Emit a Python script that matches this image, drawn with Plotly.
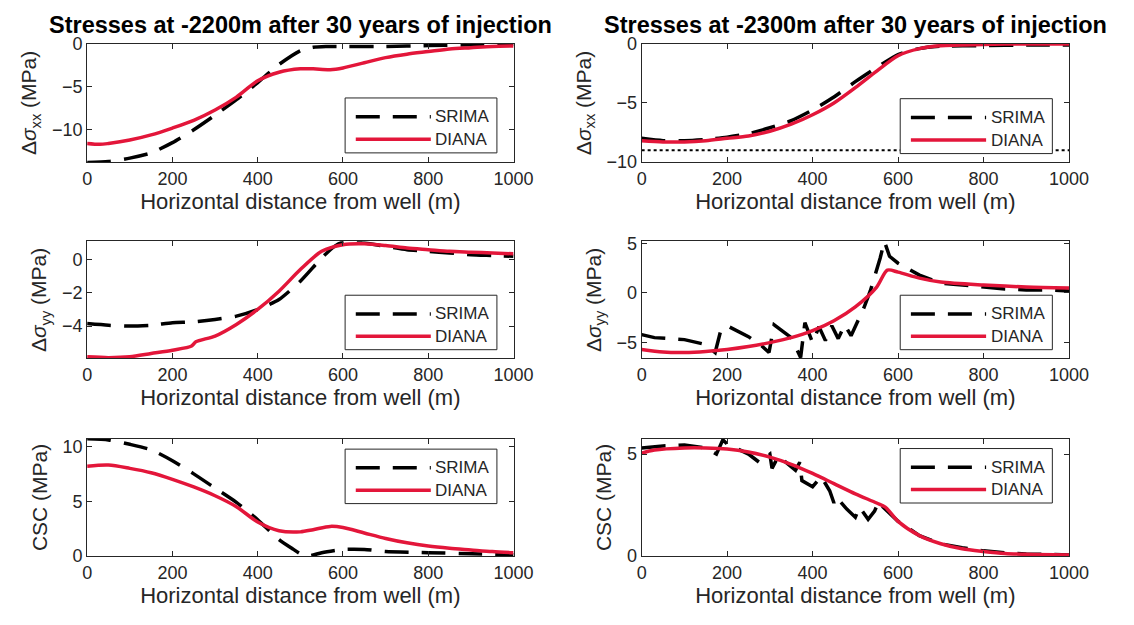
import plotly.graph_objects as go

# ---- data: horizontal distance (m) and stress changes (MPa) ----
# -2200 m, delta sigma_xx
sxx1_x_srima = [0, 50, 100, 150, 200, 250, 300, 350, 400, 450, 500, 530, 560, 600, 700, 800, 900, 1000]
sxx1_srima = [-13.8, -13.7, -13.3, -12.7, -11.5, -10.0, -8.3, -6.5, -4.5, -2.4, -0.8, -0.4, -0.3, -0.3, -0.3, -0.2, -0.1, 0.0]
sxx1_x_diana = [0, 30, 50, 100, 150, 200, 250, 300, 350, 400, 450, 500, 530, 570, 600, 650, 700, 750, 800, 850, 900, 950, 1000]
sxx1_diana = [-11.6, -11.7, -11.6, -11.2, -10.6, -9.8, -8.9, -7.7, -6.2, -4.3, -3.3, -2.9, -2.9, -3.0, -2.8, -2.2, -1.6, -1.2, -0.9, -0.6, -0.45, -0.3, -0.25]

# -2300 m, delta sigma_xx
sxx2_x_srima = [0, 50, 100, 150, 200, 250, 300, 350, 400, 450, 500, 550, 600, 650, 700, 800, 900, 1000]
sxx2_srima = [-8.0, -8.2, -8.2, -8.1, -7.9, -7.6, -7.1, -6.5, -5.6, -4.5, -3.2, -2.0, -0.9, -0.4, -0.2, -0.15, -0.1, -0.1]
sxx2_x_diana = [0, 50, 100, 150, 200, 250, 300, 350, 400, 450, 500, 550, 600, 650, 700, 800, 900, 1000]
sxx2_diana = [-8.2, -8.3, -8.3, -8.2, -8.0, -7.8, -7.4, -6.8, -6.0, -5.0, -3.7, -2.3, -1.0, -0.4, -0.15, -0.05, 0.0, 0.0]
sxx2_x_limit = [0, 1000]
sxx2_limit = [-9.0, -9.0]

# -2200 m, delta sigma_yy
syy1_x_srima = [0, 50, 100, 150, 200, 250, 300, 350, 400, 450, 500, 550, 580, 600, 650, 700, 750, 800, 850, 900, 950, 1000]
syy1_srima = [-3.85, -3.95, -4.0, -3.95, -3.8, -3.75, -3.6, -3.4, -3.0, -2.4, -1.3, 0.1, 0.8, 1.05, 1.0, 0.8, 0.6, 0.5, 0.4, 0.3, 0.25, 0.2]
syy1_x_diana = [0, 50, 100, 150, 200, 245, 255, 300, 350, 400, 450, 500, 550, 600, 650, 700, 750, 800, 850, 900, 950, 1000]
syy1_diana = [-5.85, -5.9, -5.85, -5.65, -5.45, -5.2, -4.95, -4.6, -3.9, -3.0, -1.9, -0.6, 0.5, 0.9, 0.95, 0.85, 0.7, 0.6, 0.5, 0.45, 0.4, 0.35]

# -2300 m, delta sigma_yy
syy2_x_srima = [0, 30, 100, 150, 172, 185, 200, 250, 280, 298, 310, 350, 372, 382, 400, 415, 430, 445, 460, 475, 490, 505,
                520, 535, 548, 558, 568, 580, 600, 650, 700, 750, 800, 850, 900, 950, 1000]
syy2_srima = [-4.2, -4.5, -4.7, -5.2, -6.0, -3.8, -3.3, -4.4, -5.3, -6.0, -3.2, -4.5, -6.5, -3.0, -5.0, -3.4, -4.8, -3.3, -4.6, -3.2, -4.3, -2.9,
              -1.5, 0.2, 2.0, 3.5, 5.2, 3.7, 3.0, 1.8, 1.0, 0.8, 0.6, 0.4, 0.3, 0.3, 0.2]
syy2_x_diana = [0, 50, 100, 150, 200, 250, 300, 350, 400, 450, 500, 550, 575, 600, 650, 700, 800, 900, 1000]
syy2_diana = [-5.7, -5.95, -6.0, -5.9, -5.7, -5.4, -5.0, -4.5, -3.8, -2.8, -1.4, 0.6, 2.3, 2.1, 1.5, 1.1, 0.8, 0.6, 0.5]

# -2200 m, CSC
csc1_x_srima = [0, 50, 100, 150, 200, 250, 300, 350, 400, 450, 480, 500, 520, 550, 600, 650, 700, 800, 900, 1000]
csc1_srima = [10.7, 10.6, 10.2, 9.7, 8.7, 7.5, 6.2, 4.9, 3.3, 1.5, 0.7, 0.2, 0.0, 0.3, 0.6, 0.6, 0.4, 0.3, 0.2, 0.1]
csc1_x_diana = [0, 50, 100, 150, 200, 250, 300, 350, 400, 450, 500, 530, 570, 600, 650, 700, 750, 800, 850, 900, 950, 1000]
csc1_diana = [8.2, 8.3, 8.0, 7.6, 7.0, 6.3, 5.5, 4.5, 3.1, 2.3, 2.2, 2.4, 2.7, 2.6, 2.1, 1.6, 1.2, 0.9, 0.7, 0.55, 0.4, 0.3]

# -2300 m, CSC
csc2_x_srima = [0, 50, 100, 150, 175, 190, 200, 250, 275, 300, 305, 320, 360, 370, 375, 400, 420, 440, 450, 455, 480, 500,
                510, 530, 545, 555, 565, 600, 650, 700, 750, 800, 850, 900, 1000]
csc2_srima = [5.3, 5.4, 5.45, 5.3, 5.0, 5.7, 5.5, 5.0, 4.6, 5.0, 4.3, 4.9, 4.2, 4.6, 3.7, 3.4, 3.9, 3.2, 2.6, 2.9, 2.3, 1.9,
              2.4, 1.8, 2.2, 2.7, 2.4, 1.7, 1.0, 0.6, 0.4, 0.25, 0.15, 0.1, 0.05]
csc2_x_diana = [0, 30, 100, 150, 200, 250, 300, 350, 400, 450, 500, 550, 570, 600, 650, 700, 750, 800, 850, 900, 1000]
csc2_diana = [5.05, 5.2, 5.3, 5.3, 5.25, 5.1, 4.85, 4.5, 4.05, 3.55, 3.05, 2.6, 2.4, 1.7, 1.0, 0.6, 0.35, 0.22, 0.12, 0.08, 0.05]

titles = ["Stresses at -2200m after 30 years of injection", "Stresses at -2300m after 30 years of injection"]
y_labels = ["Δ<i>σ</i><sub>xx</sub> (MPa)", "Δ<i>σ</i><sub>yy</sub> (MPa)", "CSC (MPa)"]
x_label = "Horizontal distance from well (m)"
series_names = ["SRIMA", "DIANA"]
x_ticks = [0, 200, 400, 600, 800, 1000]

# ---- styling ----
FONT = "Liberation Sans, Arial, sans-serif"
INK = "#262626"
RED = "#e3163a"
BLACK = "#000000"
DASH = "24px,13px"
LW = 3.5
W, H = 1134, 625

col_px = [(84, 520), (651, 1088)]
row_px = [(35, 157), (239, 360), (443, 564)]

panels = [
    # (row, col, srima x, srima y, diana x, diana y, y range, y ticks, legend top (axis fraction), jagged)
    (0, 0, sxx1_x_srima, sxx1_srima, sxx1_x_diana, sxx1_diana, [-13.75, 0], [-10, -5, 0], 0.542, False),
    (0, 1, sxx2_x_srima, sxx2_srima, sxx2_x_diana, sxx2_diana, [-10, 0], [-10, -5, 0], 0.536, False),
    (1, 0, syy1_x_srima, syy1_srima, syy1_x_diana, syy1_diana, [-5.95, 1.1], [-4, -2, 0], 0.54, False),
    (1, 1, syy2_x_srima, syy2_srima, syy2_x_diana, syy2_diana, [-6.6, 5.2], [-5, 0, 5], 0.54, True),
    (2, 0, csc1_x_srima, csc1_srima, csc1_x_diana, csc1_diana, [0, 10.7], [0, 5, 10], 0.912, False),
    (2, 1, csc2_x_srima, csc2_srima, csc2_x_diana, csc2_diana, [0, 5.75], [0, 5], 0.917, True),
]

fig = go.Figure()
layout = dict(
    width=W, height=H, margin=dict(l=0, r=0, t=0, b=0),
    paper_bgcolor="white", plot_bgcolor="white", showlegend=False,
    font=dict(family=FONT, color=INK),
)
shapes, annotations = [], []

for i, (r, c, xs, ys, xd, yd, yr, yt, leg_top, jagged) in enumerate(panels):
    k = "" if i == 0 else str(i + 1)
    xa, ya = "x" + k, "y" + k
    x0, x1 = col_px[c]
    y0, y1 = row_px[r]
    layout["xaxis" + k] = dict(
        domain=[x0 / W, x1 / W], anchor=ya, range=[0, 1000], tickvals=x_ticks,
        ticks="inside", ticklen=5, tickcolor=INK, showline=True, linecolor=INK, linewidth=1,
        mirror="ticks", showgrid=False, zeroline=False,
        tickfont=dict(size=18, color=INK, family=FONT),
        title=dict(text=x_label, font=dict(size=22, color=INK, family=FONT), standoff=5),
    )
    layout["yaxis" + k] = dict(
        domain=[1 - y1 / H, 1 - y0 / H], anchor=xa, range=yr, tickvals=yt,
        ticks="inside", ticklen=5, tickcolor=INK, showline=True, linecolor=INK, linewidth=1,
        mirror="ticks", showgrid=False, zeroline=False,
        tickfont=dict(size=18, color=INK, family=FONT),
        title=dict(text=y_labels[r], font=dict(size=21, color=INK, family=FONT), standoff=9),
    )
    if i == 1:
        fig.add_trace(go.Scatter(x=sxx2_x_limit, y=sxx2_limit, mode="lines", xaxis=xa, yaxis=ya,
                                 line=dict(color=BLACK, width=2, dash="dot")))
    fig.add_trace(go.Scatter(x=xs, y=ys, mode="lines", name=series_names[0], xaxis=xa, yaxis=ya,
                             line=dict(color=BLACK, width=LW, dash=DASH,
                                       shape="linear" if jagged else "spline", smoothing=0.6)))
    fig.add_trace(go.Scatter(x=xd, y=yd, mode="lines", name=series_names[1], xaxis=xa, yaxis=ya,
                             line=dict(color=RED, width=LW, shape="spline", smoothing=0.8)))

    # legend box drawn in axis-domain coordinates
    xr, yr_ = xa + " domain", ya + " domain"
    lx0, lx1 = 0.605, 0.961
    ly1 = leg_top
    ly0 = ly1 - 0.465
    shapes.append(dict(type="rect", xref=xr, yref=yr_, x0=lx0, x1=lx1, y0=ly0, y1=ly1,
                       fillcolor="white", line=dict(color=INK, width=1), layer="above"))
    row_y = [ly1 - 0.16, ly1 - 0.35]
    styles = [dict(color=BLACK, width=LW, dash=DASH), dict(color=RED, width=LW)]
    for j in range(2):
        shapes.append(dict(type="line", xref=xr, yref=yr_, x0=0.63, x1=0.806, y0=row_y[j], y1=row_y[j],
                           line=styles[j], layer="above"))
        annotations.append(dict(xref=xr, yref=yr_, x=0.812, y=row_y[j], text=series_names[j],
                                showarrow=False, xanchor="left", yanchor="middle",
                                font=dict(size=17, color=INK, family=FONT)))

# column titles
for c in range(2):
    x0, x1 = col_px[c]
    annotations.append(dict(xref="paper", yref="paper", x=(x0 + x1) / 2 / W, y=1 - 16 / H,
                            text="<b>" + titles[c] + "</b>", showarrow=False,
                            xanchor="center", yanchor="middle",
                            font=dict(size=23.5, color=BLACK, family=FONT)))

layout["shapes"] = shapes
layout["annotations"] = annotations
fig.update_layout(**layout)
fig.write_html("out.html")
